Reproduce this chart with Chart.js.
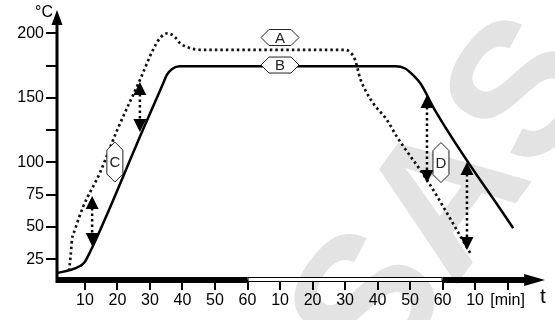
<!DOCTYPE html>
<html>
<head>
<meta charset="utf-8">
<script src="https://cdn.jsdelivr.net/npm/chart.js@4/dist/chart.umd.min.js"></script>
<style>
  html, body { margin: 0; padding: 0; background: #fff; }
  #wrap { width: 555px; height: 320px; }
</style>
</head>
<body>
<div id="wrap"><canvas id="chart" width="555" height="320"></canvas></div>
<script>
// curve A (dotted), time in minutes / temperature in °C
const timeA = [5.1, 5.6, 6.0, 6.9, 9.4, 14.6, 19.9, 26.9, 30.9, 33.0, 35.5, 37.7, 39.2, 42.3, 45.5, 60, 89.4, 91.5, 93.1, 94.6, 96.2, 98.6, 102.9, 106, 115.2, 128.5]
const tempA = [16, 28, 40, 47.7, 65.5, 92, 125, 163.8, 187, 196, 200, 197, 192.4, 188.5, 187.2, 187.2, 187.2, 185.5, 179.3, 165.4, 156.1, 146, 132.8, 119.7, 86.4, 29.9]

// curve B (solid)
const timeB = [1.4, 5.4, 8.5, 9.8, 11.5, 27.8, 33.7, 35.2, 36.8, 39.2, 70, 105.4, 108.5, 110.9, 113.1, 115.2, 117.1, 141.7]
const tempB = [14.4, 16.7, 19.8, 22.5, 30.3, 125.1, 159.1, 167.7, 172.3, 174.4, 174.5, 174.5, 172.7, 167.6, 161.5, 152.2, 142.9, 49.2]

// axis ticks
const xTicks = [10, 20, 30, 40, 50, 60, 70, 80, 90, 100, 110, 120, 130, 140]
const xTickLabels = ['10', '20', '30', '40', '50', '60', '10', '20', '30', '40', '50', '60', '10', '[min]']
const yTicks = [25, 50, 75, 100, 125, 150, 175, 200]
const yTickLabels = ['25', '50', '75', '100', '', '150', '', '200']

// dotted double arrows: time, lower tip, upper tip
const arrowTime = [12.2, 26.9, 115.2, 127.5]
const arrowLow = [35.3, 123.5, 84.1, 32.2]
const arrowHigh = [74, 162.2, 152.2, 100.3]

// hexagon labels
const labelText = ['A', 'B', 'C', 'D']
const labelTime = [70, 70, 19.2, 119.5]
const labelTemp = [196.7, 175.4, 100.3, 99.9]

// phases on the time bar (minutes)
const phaseStart = [1.4, 60, 120]
const phaseEnd = [60, 120, 145.4]

const FONT = '"Liberation Sans", Arial, sans-serif'

function toPoints(times, temps) {
  return times.map((t, i) => ({ x: t, y: temps[i] }))
}

function hexagon(ctx, cx, cy, w, h, vertical) {
  ctx.beginPath()
  if (vertical) {
    const c = w / 2
    ctx.moveTo(cx, cy - h / 2)
    ctx.lineTo(cx + w / 2, cy - h / 2 + c)
    ctx.lineTo(cx + w / 2, cy + h / 2 - c)
    ctx.lineTo(cx, cy + h / 2)
    ctx.lineTo(cx - w / 2, cy + h / 2 - c)
    ctx.lineTo(cx - w / 2, cy - h / 2 + c)
  } else {
    const c = h / 2
    ctx.moveTo(cx - w / 2, cy)
    ctx.lineTo(cx - w / 2 + c, cy - h / 2)
    ctx.lineTo(cx + w / 2 - c, cy - h / 2)
    ctx.lineTo(cx + w / 2, cy)
    ctx.lineTo(cx + w / 2 - c, cy + h / 2)
    ctx.lineTo(cx - w / 2 + c, cy + h / 2)
  }
  ctx.closePath()
  ctx.fillStyle = '#fff'
  ctx.fill()
  ctx.lineWidth = 1
  ctx.strokeStyle = '#222'
  ctx.stroke()
}

function triangle(ctx, x, tipY, dir, size) {
  // dir -1: pointing up, 1: pointing down
  ctx.beginPath()
  ctx.moveTo(x, tipY)
  ctx.lineTo(x - size / 2, tipY - dir * size)
  ctx.lineTo(x + size / 2, tipY - dir * size)
  ctx.closePath()
  ctx.fill()
}

const watermark = {
  id: 'watermark',
  beforeDraw(chart) {
    const ctx = chart.ctx
    ctx.save()
    ctx.translate(452, 202)
    ctx.rotate(-54 * Math.PI / 180)
    ctx.fillStyle = '#e3e3e3'
    ctx.font = 'bold 190px ' + FONT
    ctx.textAlign = 'center'
    ctx.textBaseline = 'middle'
    ctx.fillText('SAS', 0, 0)
    ctx.restore()
  }
}

const decorations = {
  id: 'decorations',
  afterDatasetsDraw(chart) {
    const ctx = chart.ctx
    const x = chart.scales.x
    const y = chart.scales.y
    ctx.save()

    // double arrows
    ctx.fillStyle = '#000'
    ctx.strokeStyle = '#000'
    for (let i = 0; i < arrowTime.length; i++) {
      const px = x.getPixelForValue(arrowTime[i])
      const top = y.getPixelForValue(arrowHigh[i])
      const bottom = y.getPixelForValue(arrowLow[i])
      ctx.setLineDash([2.5, 3])
      ctx.lineWidth = 2.5
      ctx.beginPath()
      ctx.moveTo(px, top + 12)
      ctx.lineTo(px, bottom - 12)
      ctx.stroke()
      ctx.setLineDash([])
      triangle(ctx, px, top, -1, 13)
      triangle(ctx, px, bottom, 1, 13)
    }

    // hexagon labels
    for (let i = 0; i < labelText.length; i++) {
      const px = x.getPixelForValue(labelTime[i])
      const py = y.getPixelForValue(labelTemp[i])
      const vertical = i >= 2
      if (vertical) hexagon(ctx, px, py, 16, 40, true)
      else hexagon(ctx, px, py, 38, 16, false)
      ctx.fillStyle = '#222'
      ctx.font = '15px ' + FONT
      ctx.textAlign = 'center'
      ctx.textBaseline = 'middle'
      ctx.fillText(labelText[i], px, py + 1)
    }
    ctx.restore()
  },
  afterDraw(chart) {
    const ctx = chart.ctx
    const area = chart.chartArea
    const x = chart.scales.x
    ctx.save()
    ctx.fillStyle = '#000'

    // y axis with arrow
    ctx.fillRect(area.left - 1.5, area.top + 10, 3, area.bottom - area.top - 7)
    ctx.beginPath()
    ctx.moveTo(area.left, area.top)
    ctx.lineTo(area.left - 5.5, area.top + 15)
    ctx.lineTo(area.left + 5.5, area.top + 15)
    ctx.closePath()
    ctx.fill()

    // time bar: dark / light / dark phases
    const barTop = area.bottom - 3
    for (let i = 0; i < phaseStart.length; i++) {
      const x0 = x.getPixelForValue(phaseStart[i])
      const x1 = x.getPixelForValue(phaseEnd[i])
      if (i === 1) {
        ctx.fillStyle = '#000'
        ctx.fillRect(x0, barTop, x1 - x0, 5)
        ctx.fillStyle = '#fff'
        ctx.fillRect(x0 + 1, barTop + 1, x1 - x0 - 2, 3)
      } else {
        ctx.fillStyle = '#000'
        ctx.fillRect(x0, barTop, x1 - x0, 6)
      }
    }
    const endX = x.getPixelForValue(phaseEnd[2])
    ctx.fillStyle = '#000'
    ctx.beginPath()
    ctx.moveTo(endX - 1, area.bottom - 6)
    ctx.lineTo(area.right, area.bottom)
    ctx.lineTo(endX - 1, area.bottom + 6)
    ctx.closePath()
    ctx.fill()

    // axis titles
    ctx.font = '16px ' + FONT
    ctx.textAlign = 'right'
    ctx.textBaseline = 'alphabetic'
    ctx.fillText('°C', area.left - 4, area.top + 7)
    ctx.font = '21px ' + FONT
    ctx.textAlign = 'center'
    ctx.fillText('t', 543, 303)
    ctx.restore()
  }
}

new Chart(document.getElementById('chart'), {
  type: 'scatter',
  data: {
    datasets: [
      {
        label: 'A',
        data: toPoints(timeA, tempA),
        showLine: true,
        borderColor: '#111',
        borderWidth: 2.7,
        borderDash: [2.5, 3],
        pointRadius: 0,
        cubicInterpolationMode: 'monotone'
      },
      {
        label: 'B',
        data: toPoints(timeB, tempB),
        showLine: true,
        borderColor: '#000',
        borderWidth: 2.5,
        pointRadius: 0,
        cubicInterpolationMode: 'monotone'
      }
    ]
  },
  options: {
    responsive: false,
    animation: false,
    layout: { padding: { top: 10, right: 10, left: 0, bottom: 0 } },
    plugins: { legend: { display: false }, tooltip: { enabled: false } },
    scales: {
      x: {
        type: 'linear',
        min: 1.4,
        max: 151.5,
        afterBuildTicks: (s) => { s.ticks = xTicks.map(v => ({ value: v })) },
        afterFit: (s) => { s.height = 40; s.paddingLeft = 0; s.paddingRight = 0 },
        ticks: {
          autoSkip: false,
          maxRotation: 0,
          padding: 1,
          color: '#000',
          font: { size: 16, family: FONT },
          callback: (v) => xTickLabels[xTicks.indexOf(v)]
        },
        grid: { drawOnChartArea: false, tickLength: 10, color: '#000', lineWidth: 2 },
        border: { display: false }
      },
      y: {
        min: 9,
        max: 218,
        afterBuildTicks: (s) => { s.ticks = yTicks.map(v => ({ value: v })) },
        afterFit: (s) => { s.width = 57; s.paddingTop = 0; s.paddingBottom = 0 },
        ticks: {
          autoSkip: false,
          padding: 2,
          color: '#000',
          font: { size: 16, family: FONT },
          callback: (v) => yTickLabels[yTicks.indexOf(v)]
        },
        grid: { drawOnChartArea: false, tickLength: 11, color: '#000', lineWidth: 2 },
        border: { display: false }
      }
    }
  },
  plugins: [watermark, decorations]
})
</script>
</body>
</html>
